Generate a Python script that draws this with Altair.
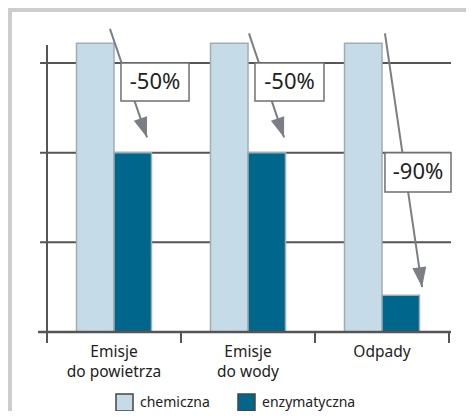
import altair as alt
import pandas as pd

# ---- data ----
categories = ["Emisje do powietrza", "Emisje do wody", "Odpady"]
series = ["chemiczna", "enzymatyczna"]
chem_values = [3.22, 3.22, 3.22]
enz_values = [2.0, 2.0, 0.41]
grid_values = [1, 2, 3]
tick_positions = [0, 1, 2, 3]          # band boundaries, in category units
change_labels = ["-50%", "-50%", "-90%"]
# arrow annotations: x in category units (0..3), y in value units
arrow_x_start = [0.47, 1.507, 2.522]
arrow_y_start = [3.38, 3.33, 3.33]
arrow_x_end = [0.746, 1.769, 2.799]
arrow_y_end = [2.17, 2.17, 0.50]
arrow_angle = [341, 341, 352]
box_x1 = [0.552, 1.552, 2.522]
box_x2 = [1.06, 2.067, 3.015]
box_y1 = [3.0, 3.0, 2.0]
box_y2 = [2.575, 2.575, 1.56]

FONT = "Noto Sans"
LIGHT = "#c5dce8"
DARK = "#00668b"
AXIS = "#555555"
ARROW = "#7b7f85"
TXT = "#222222"

W, H = 402, 287
YMAX = 3.2

bars_df = pd.DataFrame(
    [{"kategoria": c, "seria": series[0], "wartosc": v} for c, v in zip(categories, chem_values)]
    + [{"kategoria": c, "seria": series[1], "wartosc": v} for c, v in zip(categories, enz_values)]
)

yscale = alt.Scale(domain=[0, YMAX], nice=False, zero=False)
xunit = alt.Scale(domain=[0, 3], nice=False, zero=False)

# frame (decoration: top and left grey border)
frame_df = pd.DataFrame({"i": [0, 1]})
frame_top = alt.Chart(frame_df).transform_filter("datum.i == 0").mark_rect(color="#cdcdcd").encode(
    x=alt.value(-39), x2=alt.value(W + 17), y=alt.value(-37), y2=alt.value(-33)
)
frame_left = alt.Chart(frame_df).transform_filter("datum.i == 1").mark_rect(color="#cdcdcd").encode(
    x=alt.value(-39), x2=alt.value(-35), y=alt.value(-37), y2=alt.value(H + 79)
)

grid = alt.Chart(pd.DataFrame({"v": grid_values, "x1": -0.052, "x2": 3.015})).mark_rule(
    color=AXIS, strokeWidth=2
).encode(
    x=alt.X("x1:Q", scale=xunit, axis=None),
    x2="x2:Q",
    y=alt.Y("v:Q", scale=yscale, axis=None),
)

bars = alt.Chart(bars_df).mark_bar(stroke="#a3acb2", strokeWidth=1.5).encode(
    x=alt.X(
        "kategoria:N",
        sort=categories,
        scale=alt.Scale(paddingInner=0, paddingOuter=0),
        axis=alt.Axis(
            title=None, ticks=False, domain=False, labelAngle=0,
            labelFont=FONT, labelFontSize=15.5, labelColor=TXT, labelPadding=12,
            labelLineHeight=20,
            labelExpr="indexof(datum.label, ' ') > 0 ? [substring(datum.label, 0, indexof(datum.label, ' ')), substring(datum.label, indexof(datum.label, ' ') + 1)] : datum.label",
        ),
    ),
    xOffset=alt.XOffset("seria:N", sort=series, scale=alt.Scale(paddingInner=0, paddingOuter=0.787)),
    y=alt.Y("wartosc:Q", scale=yscale, axis=None),
    color=alt.Color(
        "seria:N",
        sort=series,
        scale=alt.Scale(domain=series, range=[LIGHT, DARK]),
        legend=alt.Legend(
            title=None, orient="none", legendX=68, legendY=348, direction="horizontal",
            symbolType="square", symbolSize=289, symbolStrokeColor="#444444",
            symbolStrokeWidth=1.5, symbolOpacity=1,
            labelFont=FONT, labelFontSize=14, labelColor=TXT, labelOffset=6,
            columnPadding=25,
        ),
    ),
)

yaxis_line = alt.Chart(pd.DataFrame({"x": [0], "y1": [0], "y2": [YMAX]})).mark_rule(
    color=AXIS, strokeWidth=2
).encode(
    x=alt.X("x:Q", scale=xunit, axis=None),
    y=alt.Y("y1:Q", scale=yscale, axis=None),
    y2="y2:Q",
)

baseline = alt.Chart(pd.DataFrame({"x1": [-0.067], "x2": [3.015], "y": [0]})).mark_rule(
    color=AXIS, strokeWidth=2.5
).encode(
    x=alt.X("x1:Q", scale=xunit, axis=None),
    x2="x2:Q",
    y=alt.Y("y:Q", scale=yscale, axis=None),
)

xticks = alt.Chart(pd.DataFrame({"x": tick_positions, "y1": 0, "y2": -0.123})).mark_rule(
    color=AXIS, strokeWidth=2
).encode(
    x=alt.X("x:Q", scale=xunit, axis=None),
    y=alt.Y("y1:Q", scale=yscale, axis=None),
    y2="y2:Q",
)

ann_df = pd.DataFrame({
    "xs": arrow_x_start, "ys": arrow_y_start, "xe": arrow_x_end, "ye": arrow_y_end,
    "ang": arrow_angle, "bx1": box_x1, "bx2": box_x2, "by1": box_y1, "by2": box_y2,
    "lab": change_labels,
})
ann_df["cx"] = (ann_df["bx1"] + ann_df["bx2"]) / 2
ann_df["cy"] = (ann_df["by1"] + ann_df["by2"]) / 2

arrow_lines = alt.Chart(ann_df).mark_rule(color=ARROW, strokeWidth=2).encode(
    x=alt.X("xs:Q", scale=xunit, axis=None),
    x2="xe:Q",
    y=alt.Y("ys:Q", scale=yscale, axis=None),
    y2="ye:Q",
)

arrow_heads = alt.Chart(ann_df).mark_point(
    shape="M-0.7,-2L0.7,-2L0,0Z", filled=True, color=ARROW, opacity=1, size=400
).encode(
    x=alt.X("xe:Q", scale=xunit, axis=None),
    y=alt.Y("ye:Q", scale=yscale, axis=None),
    angle=alt.Angle("ang:Q", scale=None),
)

boxes = alt.Chart(ann_df).mark_rect(fill="white", stroke="#707070", strokeWidth=1.5).encode(
    x=alt.X("bx1:Q", scale=xunit, axis=None),
    x2="bx2:Q",
    y=alt.Y("by1:Q", scale=yscale, axis=None),
    y2="by2:Q",
)

box_text = alt.Chart(ann_df).mark_text(
    font=FONT, fontSize=22, color=TXT, align="center", baseline="middle"
).encode(
    x=alt.X("cx:Q", scale=xunit, axis=None),
    y=alt.Y("cy:Q", scale=yscale, axis=None),
    text="lab:N",
)

chart = alt.layer(
    frame_top, frame_left, grid, bars, yaxis_line, baseline, xticks,
    arrow_lines, arrow_heads, boxes, box_text,
).resolve_scale(x="independent").properties(
    width=W, height=H,
    autosize=alt.AutoSizeParams(type="none"),
    padding={"left": 39, "top": 37, "right": 17, "bottom": 79},
    background="white",
).configure_view(stroke=None)

chart.save("out.html", embed_options={"renderer": "svg", "actions": False})
